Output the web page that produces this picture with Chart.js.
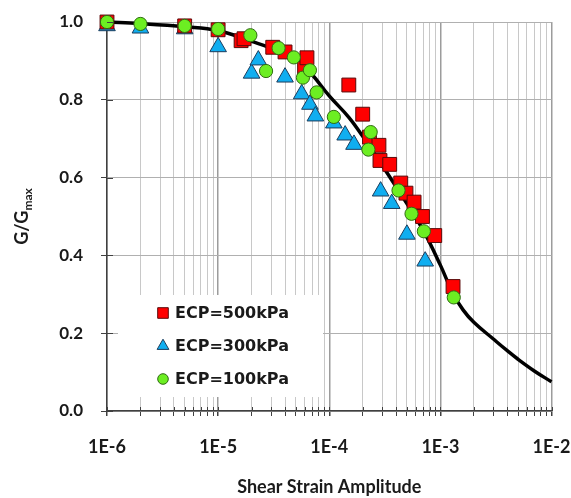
<!DOCTYPE html>
<html>
<head>
<meta charset="utf-8">
<script src="https://cdn.jsdelivr.net/npm/chart.js@4.4.1/dist/chart.umd.min.js"></script>
<style>
  html, body { margin: 0; padding: 0; background: #fff; }
</style>
</head>
<body>
<canvas id="chart" width="571" height="498"></canvas>
<script>
// ECP = 500 kPa
const strain500 = [1e-6, 5e-6, 1e-5, 1.61e-5, 1.71e-5, 3.1e-5, 4.0e-5, 6.0e-5, 6.3e-5, 1.5e-4, 2.0e-4, 2.3e-4, 2.8e-4, 2.86e-4, 3.5e-4, 4.4e-4, 4.9e-4, 5.8e-4, 6.9e-4, 8.9e-4, 1.3e-3];
const ratio500  = [1.0, 0.99, 0.98, 0.952, 0.957, 0.935, 0.923, 0.881, 0.908, 0.838, 0.763, 0.704, 0.683, 0.644, 0.634, 0.586, 0.56, 0.537, 0.50, 0.451, 0.32];

// ECP = 300 kPa
const strain300 = [1e-6, 2e-6, 5e-6, 1e-5, 2e-5, 2.3e-5, 4.0e-5, 5.65e-5, 6.7e-5, 7.5e-5, 1.1e-4, 1.39e-4, 1.67e-4, 2.9e-4, 3.65e-4, 5.0e-4, 7.3e-4];
const ratio300  = [0.99, 0.984, 0.982, 0.936, 0.868, 0.902, 0.858, 0.815, 0.788, 0.758, 0.74, 0.709, 0.685, 0.565, 0.533, 0.454, 0.385];

// ECP = 100 kPa
const strain100 = [1e-6, 2e-6, 5e-6, 1e-5, 1.95e-5, 2.7e-5, 3.5e-5, 4.8e-5, 5.8e-5, 6.7e-5, 7.7e-5, 1.1e-4, 2.25e-4, 2.36e-4, 4.2e-4, 5.5e-4, 7.1e-4, 1.32e-3];
const ratio100  = [1.0, 0.995, 0.99, 0.982, 0.966, 0.874, 0.933, 0.909, 0.857, 0.876, 0.819, 0.756, 0.672, 0.717, 0.567, 0.507, 0.462, 0.292];

// fitted curve
const fitStrain = [1e-6, 2e-6, 5e-6, 1e-5, 2e-5, 3e-5, 5e-5, 7e-5, 1e-4, 1.5e-4, 2e-4, 3e-4, 5e-4, 7e-4, 1e-3, 1.3e-3, 1.6e-3, 2e-3, 3e-3, 4e-3, 5e-3, 7e-3, 1e-2];
const fitRatio  = [1.0, 0.996, 0.988, 0.978, 0.95, 0.933, 0.907, 0.865, 0.81, 0.755, 0.706, 0.631, 0.533, 0.465, 0.375, 0.302, 0.26, 0.228, 0.185, 0.155, 0.133, 0.103, 0.075];

const xDecades = [1e-6, 1e-5, 1e-4, 1e-3, 1e-2];
const xTickLabels = ['1E-6', '1E-5', '1E-4', '1E-3', '1E-2'];
const yTicks = [0, 0.2, 0.4, 0.6, 0.8, 1.0];

const seriesNames = ['ECP=500kPa', 'ECP=300kPa', 'ECP=100kPa'];

const toPoints = (xs, ys) => xs.map((x, i) => ({ x, y: ys[i] }));
const decadeIndex = v => xDecades.findIndex(d => Math.abs(v / d - 1) < 1e-6);

// legend drawn inside the plot, on a white box
const insideLegend = {
    id: 'insideLegend',
    afterDatasetsDraw(chart, args, opts) {
        const ctx = chart.ctx;
        ctx.save();
        ctx.fillStyle = '#ffffff';
        ctx.fillRect(opts.left, opts.top, opts.right - opts.left, opts.bottom - opts.top);
        ctx.font = opts.font;
        ctx.textBaseline = 'middle';
        opts.items.forEach((idx, row) => {
            const ds = chart.data.datasets[idx];
            const y = opts.rowY[row];
            ctx.fillStyle = ds.pointBackgroundColor;
            ctx.strokeStyle = ds.pointBorderColor;
            ctx.lineWidth = 1;
            Chart.helpers.drawPoint(ctx, {
                pointStyle: ds.pointStyle,
                radius: opts.markerRadius[ds.pointStyle],
                rotation: 0,
                borderWidth: 1
            }, opts.markerX, y);
            ctx.fillStyle = '#1a1a1a';
            ctx.fillText(ds.label, opts.textX, y + 1);
        });
        ctx.restore();
    }
};

// ticks that cross the axis lines, and the y title with a subscript
const axisExtras = {
    id: 'axisExtras',
    afterDraw(chart) {
        const ctx = chart.ctx;
        const x = chart.scales.x, y = chart.scales.y;
        const area = chart.chartArea;
        ctx.save();
        ctx.strokeStyle = '#404040';
        ctx.lineWidth = 1;
        x.ticks.forEach(t => {
            const px = Math.round(x.getPixelForValue(t.value)) + 0.5;
            ctx.beginPath();
            ctx.moveTo(px, area.bottom - 4);
            ctx.lineTo(px, area.bottom);
            ctx.stroke();
        });
        y.ticks.forEach(t => {
            const py = Math.round(y.getPixelForValue(t.value)) + 0.5;
            ctx.beginPath();
            ctx.moveTo(area.left, py);
            ctx.lineTo(area.left + 6, py);
            ctx.stroke();
        });

        ctx.translate(22, (area.top + area.bottom) / 2);
        ctx.rotate(-Math.PI / 2);
        ctx.fillStyle = '#1a1a1a';
        ctx.textBaseline = 'alphabetic';
        const main = 'G/G', sub = 'max';
        ctx.font = 'bold 18px Lato';
        const w1 = ctx.measureText(main).width;
        ctx.font = 'bold 12px Lato';
        const w2 = ctx.measureText(sub).width;
        const x0 = -(w1 + w2) / 2;
        ctx.font = 'bold 18px Lato';
        ctx.fillText(main, x0, 6);
        ctx.font = 'bold 12px Lato';
        ctx.fillText(sub, x0 + w1, 10);
        ctx.restore();
    }
};

const markerBase = { showLine: false, pointBorderWidth: 1, clip: false };

new Chart(document.getElementById('chart'), {
    type: 'scatter',
    data: {
        datasets: [
            {
                ...markerBase,
                label: seriesNames[0],
                data: toPoints(strain500, ratio500),
                pointStyle: 'rect',
                pointRadius: 9.8,
                pointBackgroundColor: '#ff0000',
                pointBorderColor: '#5a0a0a',
                order: 2
            },
            {
                ...markerBase,
                label: seriesNames[1],
                data: toPoints(strain300, ratio300),
                pointStyle: 'triangle',
                pointRadius: 9.6,
                pointBackgroundColor: '#10aef0',
                pointBorderColor: '#1c3c5c',
                order: 3
            },
            {
                ...markerBase,
                label: seriesNames[2],
                data: toPoints(strain100, ratio100),
                pointStyle: 'circle',
                pointRadius: 6.6,
                pointBackgroundColor: '#6cee22',
                pointBorderColor: '#2f6a12',
                order: 1
            },
            {
                label: 'fit',
                data: toPoints(fitStrain, fitRatio),
                showLine: true,
                borderColor: '#000000',
                borderWidth: 3.5,
                pointRadius: 0,
                tension: 0.4,
                clip: false,
                order: 4
            }
        ]
    },
    options: {
        responsive: false,
        animation: false,
        events: [],
        layout: { padding: 0 },
        plugins: {
            legend: { display: false },
            tooltip: { enabled: false },
            insideLegend: {
                left: 118, top: 295, right: 323, bottom: 397,
                markerX: 163, textX: 175,
                rowY: [313, 346, 379],
                markerRadius: { rect: 7.5, triangle: 6.8, circle: 5.3 },
                items: [0, 1, 2],
                font: 'bold 16px "DejaVu Sans"'
            }
        },
        scales: {
            x: {
                type: 'logarithmic',
                min: 1e-6,
                max: 1e-2,
                afterBuildTicks: scale => {
                    const t = [];
                    xDecades.forEach((d, i) => {
                        t.push({ value: d });
                        if (i < xDecades.length - 1) {
                            for (let k = 2; k <= 9; k++) t.push({ value: d * k });
                        }
                    });
                    scale.ticks = t;
                },
                afterFit: scale => {
                    scale.height = 87;
                    scale.paddingLeft = 0;
                    scale.paddingRight = 19.5;
                },
                ticks: {
                    autoSkip: false,
                    maxRotation: 0,
                    padding: 20,
                    color: '#1a1a1a',
                    font: { family: 'Lato', size: 18, weight: 'bold' },
                    callback: v => {
                        const i = decadeIndex(v);
                        return i >= 0 ? xTickLabels[i] : '';
                    }
                },
                grid: {
                    color: c => (c.tick && decadeIndex(c.tick.value) >= 0) ? '#9c9c9c' : '#c8c8c8',
                    lineWidth: c => (c.tick && decadeIndex(c.tick.value) >= 0) ? 1.5 : 1,
                    tickColor: '#404040',
                    tickLength: 5,
                    drawTicks: true
                },
                border: { display: true, color: '#404040', width: 1.5 },
                title: {
                    display: true,
                    text: 'Shear Strain Amplitude',
                    color: '#1a1a1a',
                    font: { family: 'Lato', size: 18, weight: 'bold' },
                    padding: { top: 0, bottom: 0 }
                }
            },
            y: {
                min: 0,
                max: 1,
                afterBuildTicks: scale => {
                    scale.ticks = yTicks.map(v => ({ value: v }));
                },
                afterFit: scale => {
                    scale.width = 107;
                    scale.paddingTop = 22;
                    scale.paddingBottom = 0;
                },
                ticks: {
                    padding: 18,
                    color: '#1a1a1a',
                    font: { family: 'Lato', size: 17, weight: 'bold' },
                    callback: v => v.toFixed(1)
                },
                grid: {
                    color: '#b0b0b0',
                    lineWidth: 1,
                    tickColor: '#404040',
                    tickLength: 6
                },
                border: { display: true, color: '#404040', width: 1.5 }
            }
        }
    },
    plugins: [insideLegend, axisExtras]
});
</script>
</body>
</html>
